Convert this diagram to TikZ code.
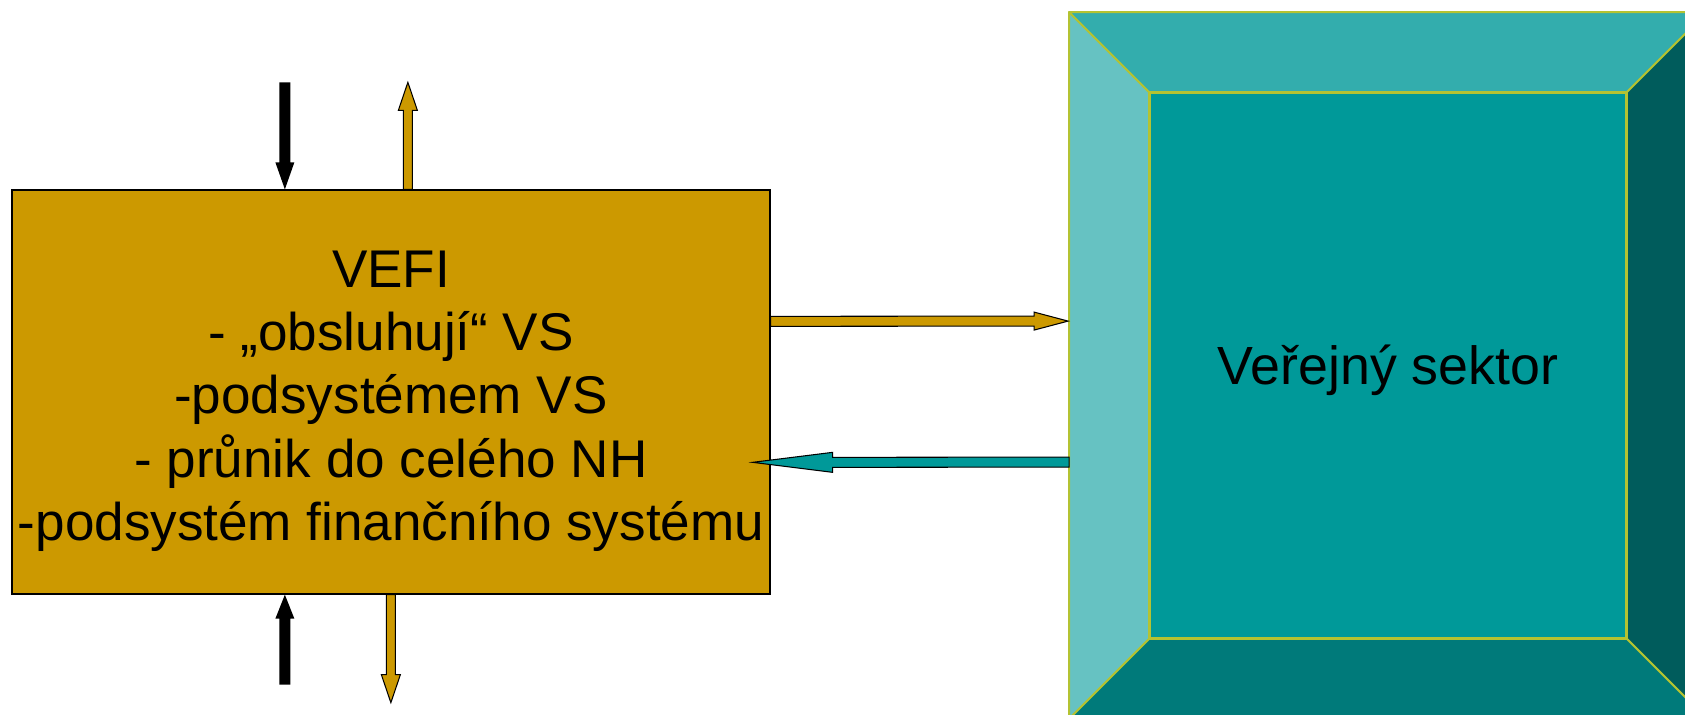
\documentclass[tikz,border=0pt]{standalone}
\usepackage{fontspec}
\setmainfont{Liberation Sans}
\usepackage{tikz}
\usetikzlibrary{calc}
\definecolor{gold}{HTML}{CC9900}
\definecolor{tealmid}{HTML}{009999}
\definecolor{teallight}{HTML}{66C2C2}
\definecolor{tealtop}{HTML}{33ADAD}
\definecolor{tealbot}{HTML}{007A7A}
\definecolor{tealdark}{HTML}{005C5C}
\definecolor{bevelline}{RGB}{180,195,50}
\tikzset{
    %Define style for the boxes
    vefibox/.style={
           rectangle,
           draw=black, line width=0.8pt,
           fill=gold,
           minimum width=15.16cm,
           minimum height=8.08cm,
           inner sep=0pt,
           align=center,
           font=\fontsize{30.2}{36}\selectfont},
    sectorbox/.style={
           rectangle,
           draw=bevelline, line width=1.1pt,
           fill=tealmid,
           minimum width=9.52cm,
           minimum height=10.9cm,
           inner sep=0pt,
           font=\fontsize{30.6}{36}\selectfont},
    bevel/.style={
           draw=bevelline, line width=1.1pt,
           line join=round},
    % Define block arrow styles
    pilblack/.style={fill=black},
    pilgold/.style={
           fill=gold,
           draw=black, line width=0.6pt},
    pilteal/.style={
           fill=tealmid,
           draw=black, line width=0.6pt}
}
\begin{document}
\begin{tikzpicture}[x=0.02cm, y=-0.02cm]
\clip (0,0) rectangle (1685,714);
\node[vefibox] (vefi) at (391,392) {VEFI\rule{0pt}{31.3pt}\\- „obsluhují“ VS\\-podsystémem VS\\- průnik do celého NH\\-podsystém finančního systému};
\node[sectorbox] (vs) at (1388,365.5) {\raisebox{-3pt}[\height][\depth]{Veřejný sektor}};
% bevel round the sector box
\coordinate (onw) at ($(vs.north west)+(-80,-80)$);
\coordinate (one) at ($(vs.north east)+(80,-80)$);
\coordinate (osw) at ($(vs.south west)+(-80,80)$);
\coordinate (ose) at ($(vs.south east)+(80,80)$);
\filldraw[bevel, fill=teallight] (onw) -- (vs.north west) -- (vs.south west) -- (osw) -- cycle;
\filldraw[bevel, fill=tealtop] (onw) -- (one) -- (vs.north east) -- (vs.north west) -- cycle;
\filldraw[bevel, fill=tealdark] (one) -- (ose) -- (vs.south east) -- (vs.north east) -- cycle;
\filldraw[bevel, fill=tealbot] (osw) -- (vs.south west) -- (vs.south east) -- (ose) -- cycle;
% arrows above the box
\path[pilblack] ($(vefi.north west)+(273.5,0)$) -- ++(-9.5,-27) -- ++(4,0) -- ++(0,-80) -- ++(11,0) -- ++(0,80) -- ++(4,0) -- cycle;
\path[pilgold] ($(vefi.north west)+(392,0)$) -- ++(0,-79) -- ++(-5,0) -- ++(9.5,-28) -- ++(9.5,28) -- ++(-5,0) -- ++(0,79) -- cycle;
% arrows below the box
\path[pilblack] ($(vefi.south west)+(273.5,0)$) -- ++(-9.5,24) -- ++(4,0) -- ++(0,66) -- ++(11,0) -- ++(0,-66) -- ++(4,0) -- cycle;
\path[pilgold] ($(vefi.south west)+(375,0)$) -- ++(0,80) -- ++(-5,0) -- ++(9.5,28) -- ++(9.5,-28) -- ++(-5,0) -- ++(0,-80) -- cycle;
% arrows between VEFI and the sector
\path[pilgold] ($(vefi.north east)+(0,127)$) -- ($(onw)+(-35,304)$) -- ++(0,-4) -- ++(34,9) -- ++(-34,9) -- ++(0,-4) -- ($(vefi.north east)+(0,137)$) -- cycle;
\path[pilteal] ($(vefi.north east)+(-18,273)$) -- ++(80,-10) -- ++(0,5) -- ($(onw)+(0,445)$) -- ++(0,10) -- ($(vefi.north east)+(62,278)$) -- ++(0,5) -- cycle;
\end{tikzpicture}
\end{document}
